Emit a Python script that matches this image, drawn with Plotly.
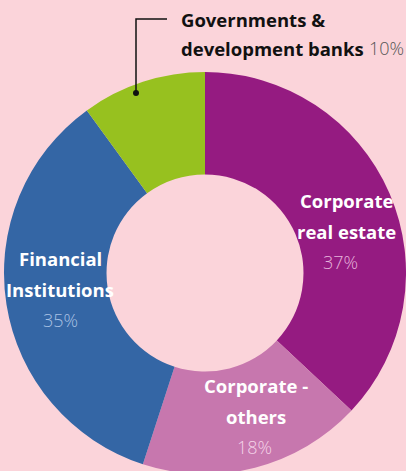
import plotly.graph_objects as go

categories = ["Corporate real estate", "Corporate - others", "Financial Institutions", "Governments & development banks"]
values = [37, 18, 35, 10]
colors = ["#951B81", "#C777AE", "#3466A5", "#97C11F"]
label_lines = [["Corporate", "real estate"], ["Corporate -", "others"], ["Financial", "Institutions"], ["Governments &", "development banks"]]
pct_colors = ["#E6B3DB", "#F4D3E8", "#A9C1E3", "#555555"]

W, H = 406, 546
BG = "#FBD4DA"
FONT = "Open Sans"
FS = 18.5

def px(x, y):
    return x / W, 1 - y / H

fig = go.Figure(go.Pie(
    labels=categories, values=values, hole=0.49, sort=False, direction="clockwise",
    rotation=0, marker=dict(colors=colors, line=dict(width=0)),
    textinfo="none", hoverinfo="label+percent", showlegend=False,
    domain=dict(x=[4 / W, 1], y=[0, 1]),
))

ann = []
pos = {0: (346, 200, 340), 1: (256, 385, 255), 2: (60, 258, 60)}
for i, (cx, y0, pxx) in pos.items():
    for j, line in enumerate(label_lines[i]):
        x, y = px(cx, y0 + j * 31)
        ann.append(dict(x=x, y=y, xref="paper", yref="paper", text=f"<b>{line}</b>", showarrow=False,
                        font=dict(family=FONT, size=FS, color="white"), xanchor="center", yanchor="middle"))
    x, y = px(pxx, y0 + 62)
    ann.append(dict(x=x, y=y, xref="paper", yref="paper", text=f"{values[i]}%", showarrow=False,
                    font=dict(family=FONT, size=18, color=pct_colors[i], weight=300), xanchor="center", yanchor="middle"))

for j, line in enumerate(label_lines[3]):
    x, y = px(179, 20 + j * 28)
    ann.append(dict(x=x, y=y, xref="paper", yref="paper", text=f"<b>{line}</b>", showarrow=False,
                    font=dict(family=FONT, size=FS, color="#111111"), xanchor="left", yanchor="middle"))
x, y = px(367, 48)
ann.append(dict(x=x, y=y, xref="paper", yref="paper", text=f"{values[3]}%", showarrow=False,
                font=dict(family=FONT, size=18, color=pct_colors[3], weight=300), xanchor="left", yanchor="middle"))

shapes = []
x1, y1 = px(167, 19)
x2, y2 = px(136, 19)
x3, y3 = px(136, 93)
shapes.append(dict(type="path", xref="paper", yref="paper",
                   path=f"M {x1} {y1} L {x2} {y2} L {x3} {y3}", line=dict(color="#111111", width=1.5)))
shapes.append(dict(type="circle", xref="paper", yref="paper", x0=x3 - 3 / W, x1=x3 + 3 / W,
                   y0=y3 - 3 / H, y1=y3 + 3 / H, fillcolor="#111111", line=dict(width=0)))

fig.update_layout(
    width=W, height=H, margin=dict(l=0, r=0, t=0, b=0),
    paper_bgcolor=BG, plot_bgcolor=BG, annotations=ann, shapes=shapes,
)

fig.write_html("out.html", config={"displayModeBar": False},
               post_script="document.body.style.margin='0';document.body.style.overflow='hidden';document.body.style.background='" + BG + "';")
